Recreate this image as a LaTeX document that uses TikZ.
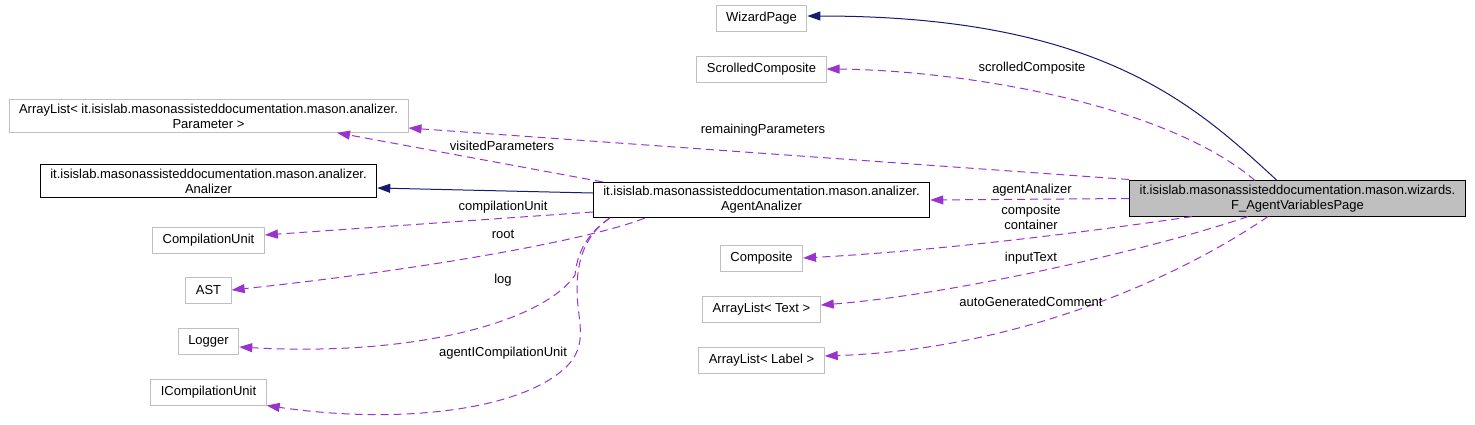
\documentclass[tikz,border=0pt]{standalone}
\usepackage{fontspec}
\setmainfont{Liberation Sans}
\usetikzlibrary{arrows.meta}
\definecolor{depcol}{HTML}{9A32CD}
\definecolor{inhcol}{HTML}{191970}
\definecolor{boxgray}{HTML}{BFBFBF}
\begin{document}
\begin{tikzpicture}[
    x=1pt, y=-1pt,
    font=\fontsize{13}{15}\selectfont,
    cls/.style={draw=boxgray, fill=white, line width=1pt, inner xsep=10pt, inner ysep=4pt, minimum height=26pt, align=center},
    doc/.style={cls, draw=black},
    cur/.style={doc, fill=boxgray},
    inh/.style={draw=inhcol, line width=1pt, -{Triangle[length=13pt,width=9pt]}},
    use/.style={draw=depcol, line width=1pt, dash pattern=on 8pt off 5pt, -{Triangle[length=13pt,width=9pt]}},
    lbl/.style={inner sep=0pt}
]
\useasboundingbox (0,0) rectangle (1475,424);

% Klasy po lewej stronie
\node[cls] (params) at (208.5,116) {ArrayList< it.isislab.masonassisteddocumentation.mason.analizer.\\Parameter >};
\node[doc] (analizer) at (208.5,181) {it.isislab.masonassisteddocumentation.mason.analizer.\\Analizer};
\node[cls] (cunit) at (208.5,240) {CompilationUnit};
\node[cls] (ast) at (208.5,290) {AST};
\node[cls] (logger) at (208.5,341) {Logger};
\node[cls] (icunit) at (208.5,392) {ICompilationUnit};

% Klasy w srodkowej kolumnie
\node[cls] (wizard) at (761.5,18.5) {WizardPage};
\node[cls] (scrolled) at (761.5,69) {ScrolledComposite};
\node[doc] (agentanal) at (761.5,200) {it.isislab.masonassisteddocumentation.mason.analizer.\\AgentAnalizer};
\node[cls] (composite) at (761.5,258) {Composite};
\node[cls] (altext) at (761.5,309) {ArrayList< Text >};
\node[cls] (allabel) at (761.5,360) {ArrayList< Label >};

% Klasa opisywana
\node[cur] (page) at (1297.5,198.5) {it.isislab.masonassisteddocumentation.mason.wizards.\\F\_AgentVariablesPage};

% Dziedziczenie
\draw[inh] ([xshift=-20.5pt]page.north) .. controls (1195,105) and (1100,16) .. ([yshift=2.5pt]wizard.east);
\draw[inh] ([yshift=7pt]agentanal.west) -- ([yshift=-7pt]analizer.east);

% Pola klasy F_AgentVariablesPage
\draw[use] ([xshift=-42.5pt]page.north) .. controls (1160,100) and (950,70) .. (scrolled.east);
\draw[use] ([yshift=19pt]page.west) -- ([yshift=-12pt]params.east);
\draw[use] (page.west) -- (agentanal.east);
\draw[use] ([xshift=-105.5pt]page.south) .. controls (1100,230) and (950,250) .. (composite.east);
\draw[use] ([xshift=-49.5pt]page.south) .. controls (1150,250) and (950,295) .. ([yshift=4pt]altext.east);
\draw[use] ([xshift=-29.5pt]page.south) .. controls (1160,290) and (1000,350) .. ([yshift=4pt]allabel.east);

% Pola klasy AgentAnalizer
\draw[use] ([xshift=10pt]agentanal.north west) -- ([xshift=128.5pt]params.south);
\draw[use] ([yshift=-12pt]agentanal.west) -- ([yshift=5pt]cunit.east);
\draw[use] ([xshift=52pt]agentanal.south west) .. controls (590,240) and (420,270) .. (ast.east);
\draw[use] ([xshift=17pt]agentanal.south west) .. controls (585,235) and (577,255) .. (575,275)
    .. controls (545,320) and (420,357) .. ([yshift=-6pt]logger.east);
\draw[use] ([xshift=17pt]agentanal.south west) .. controls (585,235) and (577,260) .. (577,290)
    .. controls (577,320) and (590,345) .. (565,368) .. controls (520,410) and (400,425) .. (icunit.south east);

% Etykiety pol
\node[lbl] (lscrolled) at (1032,68) {scrolledComposite};
\node[lbl] (lremaining) at (763,130) {remainingParameters};
\node[lbl] (lvisited) at (502,146) {visitedParameters};
\node[lbl] (lagent) at (1032,190) {agentAnalizer};
\node[lbl, align=center] (lcomposite) at (1031,217.5) {composite\\container};
\node[lbl] (linput) at (1031,258) {inputText};
\node[lbl] (lauto) at (1031,302) {autoGeneratedComment};
\node[lbl] (lcunit) at (503,207) {compilationUnit};
\node[lbl] (lroot) at (503,234) {root};
\node[lbl] (llog) at (503,280) {log};
\node[lbl] (licunit) at (503,353) {agentICompilationUnit};

\end{tikzpicture}
\end{document}
